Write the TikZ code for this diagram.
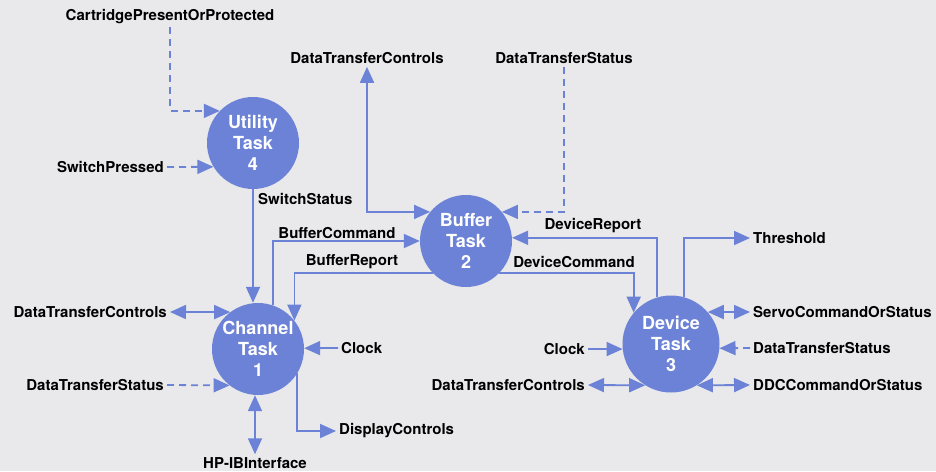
\documentclass[tikz,border=0pt]{standalone}
\usepackage{fontspec}
\setmainfont{TeX Gyre Heros}
\usetikzlibrary{shapes.geometric, arrows.meta}
\usetikzlibrary{positioning}
\definecolor{taskblue}{RGB}{108,130,214}
\definecolor{paper}{RGB}{233,233,235}
\tikzstyle{task} = [circle, minimum size=92pt, inner sep=0pt, fill=taskblue, text=white, align=center, font=\fontsize{18}{21}\selectfont\bfseries]
\tikzstyle{signal} = [inner sep=3pt, font=\fontsize{15}{18}\selectfont\bfseries]
\tikzstyle{arrow} = [line width=1.8pt, draw=taskblue, -{Triangle[length=16pt,width=14pt]}]
\tikzstyle{dasharrow} = [arrow, dash pattern=on 7pt off 5pt]
\tikzstyle{both} = [arrow, {Triangle[length=16pt,width=14pt]}-{Triangle[length=16pt,width=14pt]}]

\begin{document}
\begin{tikzpicture}[x=1pt, y=-1pt]

% Paper
\fill [paper] (0,0) rectangle (936,471);
\useasboundingbox (0,0) rectangle (936,471);

% ===== TASKS =====

% Utility task
\node (utility) [task] at (253,143) {Utility\\Task\\4};

% Buffer task
\node (buffer) [task] at (466,241) {Buffer\\Task\\2};

% Channel task
\node (channel) [task] at (258,349) {Channel\\Task\\1};

% Device task
\node (device) [task, minimum size=97pt] at (671,344) {Device\\Task\\3};

% ===== UTILITY TASK SIGNALS =====
\node (cartridge) [signal] at (170,17) {CartridgePresentOrProtected};
\node (switchpressed) [signal, anchor=east] at (167,167) {SwitchPressed};
\node (switchstatus) [signal, anchor=west] at (255,199) {SwitchStatus};

\draw [dasharrow] (cartridge.south) |- (utility.136);
\draw [dasharrow] (switchpressed.east) -- (utility.211);
\draw [arrow] (utility.south) -- (utility.south |- channel.north);

% ===== BUFFER TASK SIGNALS =====
\node (dtctop) [signal] at (367,58) {DataTransferControls};
\node (dtstop) [signal] at (564,58) {DataTransferStatus};
\node (buffercmd) [signal] at (337,233) {BufferCommand};
\node (bufferrep) [signal] at (352,262) {BufferReport};
\node (devicerep) [signal] at (593,226) {DeviceReport};
\node (devicecmd) [signal] at (574,262) {DeviceCommand};

\draw [both] (dtctop.south) |- (buffer.141);
\draw [dasharrow] (dtstop.south) |- (buffer.39);
\draw [arrow] (channel.71) |- (buffer.west);
\draw [arrow] (buffer.224) -| (channel.38);
\draw [arrow] (device.107) |- (buffer.4);
\draw [arrow] (buffer.316) -| (device.140);

% ===== DEVICE TASK SIGNALS =====
\node (threshold) [signal, anchor=west] at (750,238) {Threshold};
\node (servo) [signal, anchor=west] at (750,312) {ServoCommandOrStatus};
\node (dtsright) [signal, anchor=west] at (750,348) {DataTransferStatus};
\node (ddc) [signal, anchor=west] at (750,385) {DDCCommandOrStatus};
\node (clockdev) [signal, anchor=east] at (588,349) {Clock};
\node (dtcmid) [signal, anchor=east] at (588,385) {DataTransferControls};

\draw [arrow] (device.75) |- (threshold.west);
\draw [both] (device.41) -- (servo.west);
\draw [dasharrow] (dtsright.west) -- (device.355);
\draw [both] (device.302) -- (ddc.west);
\draw [arrow] (clockdev.east) -- (device.186);
\draw [both] (dtcmid.east) -- (device.238);

% ===== CHANNEL TASK SIGNALS =====
\node (dtcleft) [signal, anchor=east] at (170,312) {DataTransferControls};
\node (dtsleft) [signal, anchor=east] at (167,385) {DataTransferStatus};
\node (clockchan) [signal, anchor=west] at (338,348) {Clock};
\node (display) [signal, anchor=west] at (336,431) {DisplayControls};
\node (hpib) [signal] at (255,463) {HP-IBInterface};

\draw [both] (dtcleft.east) -- (channel.127);
\draw [dasharrow] (dtsleft.east) -- (channel.232);
\draw [arrow] (clockchan.west) -- (channel.1);
\draw [arrow] (channel.328) |- (display.west);
\draw [both] (hpib.north |- channel.south) -- (hpib.north);

\end{tikzpicture}
\end{document}
